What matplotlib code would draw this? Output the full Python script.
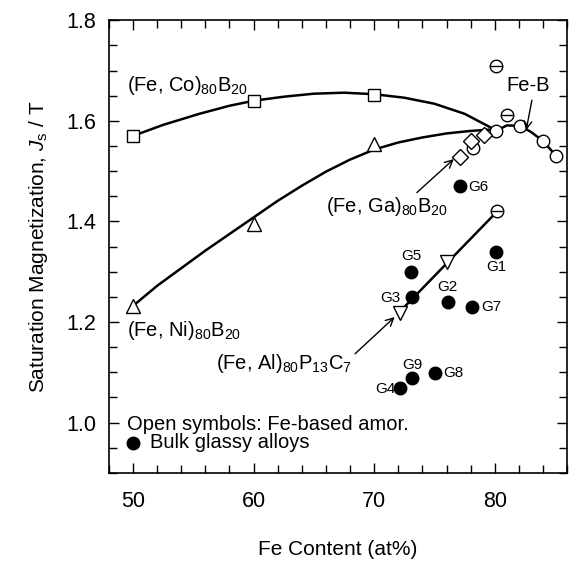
import matplotlib
matplotlib.use("Agg")
import matplotlib.pyplot as plt

plt.rcParams['font.family'] = ['Liberation Sans', 'DejaVu Sans']
plt.rcParams['mathtext.fontset'] = 'custom'
plt.rcParams['mathtext.rm'] = 'Liberation Sans'
plt.rcParams['mathtext.it'] = 'Liberation Sans:italic'

# (Fe, Co)80B20 - squares and fitted curve
co_x = [50, 60, 70]
co_y = [1.57, 1.64, 1.651]
co_curve_x = [50, 52.5, 55.5, 58, 60, 62.5, 65, 67.5, 70, 72.5, 75, 77.5, 79.8]
co_curve_y = [1.57, 1.592, 1.614, 1.630, 1.640, 1.648, 1.654, 1.656, 1.653, 1.646, 1.634, 1.614, 1.585]

# (Fe, Ni)80B20 - triangles and fitted curve
ni_x = [50, 60, 70]
ni_y = [1.232, 1.395, 1.554]
ni_curve_x = [50.2, 52, 54, 56, 58, 60, 62, 64, 66, 68, 70, 72, 74, 76, 78, 79.8]
ni_curve_y = [1.236, 1.272, 1.307, 1.342, 1.375, 1.408, 1.441, 1.471, 1.499,
              1.523, 1.543, 1.557, 1.567, 1.575, 1.580, 1.583]

# (Fe, Ga)80B20 - diamonds
ga_x = [77.1, 78.0, 79.1]
ga_y = [1.528, 1.56, 1.571]

# Fe-B - open circles and curve
feb_x = [78.2, 80.1, 82.1, 84.0, 85.1]
feb_y = [1.547, 1.58, 1.59, 1.56, 1.53]
feb_curve_x = [80.1, 81.0, 82.1, 83.0, 84.0, 85.1]
feb_curve_y = [1.58, 1.591, 1.59, 1.578, 1.56, 1.53]

# crossed circles
cross_x = [80.1, 81.0, 80.2]
cross_y = [1.71, 1.611, 1.42]

# (Fe, Al)80P13C7 - down triangles and line
al_x = [72.1, 76.0]
al_y = [1.217, 1.32]
al_line_x = [72.1, 80.2]
al_line_y = [1.22, 1.42]

# bulk glassy alloys
bg_names = ['G1', 'G2', 'G3', 'G4', 'G5', 'G6', 'G7', 'G8', 'G9']
bg_x = [80.1, 76.1, 73.1, 72.1, 73.06, 77.1, 78.1, 75.05, 73.1]
bg_y = [1.34, 1.239, 1.25, 1.068, 1.30, 1.471, 1.23, 1.099, 1.088]
# label offsets (data units) and alignment
bg_lab = {
    'G1': (0.0, -0.03, 'center'), 'G2': (0.0, 0.031, 'center'),
    'G3': (-0.9, -0.003, 'right'), 'G4': (-0.35, -0.002, 'right'),
    'G5': (0.0, 0.031, 'center'), 'G6': (0.7, -0.002, 'left'),
    'G7': (0.75, 0.0, 'left'), 'G8': (0.7, 0.0, 'left'),
    'G9': (0.05, 0.027, 'center'),
}

fig = plt.figure(figsize=(5.70, 5.63), dpi=100)
ax = fig.add_axes([0.191, 0.160, 0.804, 0.804])

lw = 1.8
ms = 8.5
ax.plot(co_curve_x, co_curve_y, color='k', lw=lw, zorder=2)
ax.plot(ni_curve_x, ni_curve_y, color='k', lw=lw, zorder=2)
ax.plot(feb_curve_x, feb_curve_y, color='k', lw=lw, zorder=2)
ax.plot(al_line_x, al_line_y, color='k', lw=lw, zorder=2)

mk = dict(ls='none', mfc='white', mec='k', mew=1.0, zorder=3)
ax.plot(co_x, co_y, marker='s', ms=ms, **mk)
ax.plot(ni_x, ni_y, marker='^', ms=ms + 1, **mk)
ax.plot(feb_x, feb_y, marker='o', ms=ms + 0.5, **mk)
ax.plot(ga_x, ga_y, marker='D', ms=ms - 0.5, **mk)
ax.plot(al_x, al_y, marker='v', ms=ms + 1, **mk)
ax.plot(cross_x, cross_y, marker='o', ms=ms + 0.5, **mk)
ax.plot(cross_x, cross_y, marker='_', ms=ms - 0.5, ls='none', mec='k', mew=1.0, zorder=4)

ax.plot(bg_x, bg_y, marker='o', ms=ms + 0.5, ls='none', mfc='k', mec='k', zorder=3)
for n, x, y in zip(bg_names, bg_x, bg_y):
    dx, dy, ha = bg_lab[n]
    ax.text(x + dx, y + dy, n, fontsize=11, ha=ha, va='center')

fs = 14.5
ax.text(49.5, 1.671, '(Fe, Co)$_{80}$B$_{20}$', fontsize=fs, ha='left', va='center')
ax.text(49.5, 1.184, '(Fe, Ni)$_{80}$B$_{20}$', fontsize=fs, ha='left', va='center')
ax.annotate('(Fe, Al)$_{80}$P$_{13}$C$_{7}$', xy=(71.7, 1.21), xytext=(56.9, 1.118),
            fontsize=fs, ha='left', va='center',
            arrowprops=dict(arrowstyle='->', lw=1.0, color='k', mutation_scale=14,
                            shrinkA=0, shrinkB=0, relpos=(1.0, 0.8)))
ax.annotate('(Fe, Ga)$_{80}$B$_{20}$', xy=(76.6, 1.524), xytext=(66.0, 1.429),
            fontsize=fs, ha='left', va='center',
            arrowprops=dict(arrowstyle='->', lw=1.0, color='k', mutation_scale=14,
                            shrinkA=0, shrinkB=0, relpos=(0.72, 1.0)))
ax.annotate('Fe-B', xy=(82.6, 1.581), xytext=(81.0, 1.671),
            fontsize=fs, ha='left', va='center',
            arrowprops=dict(arrowstyle='->', lw=1.0, color='k', mutation_scale=14,
                            shrinkA=2, shrinkB=0, relpos=(0.6, 0.0)))

ax.text(49.5, 0.997, 'Open symbols: Fe-based amor.', fontsize=fs, ha='left', va='center')
ax.plot([50.0], [0.96], marker='o', ms=ms + 0.5, ls='none', mfc='k', mec='k')
ax.text(51.4, 0.96, 'Bulk glassy alloys', fontsize=fs, ha='left', va='center')

ax.set_xlim(48, 86)
ax.set_ylim(0.9, 1.8)
ax.set_xticks([50, 60, 70, 80])
ax.set_xticks(range(48, 87, 2), minor=True)
ax.set_yticks([1.0, 1.2, 1.4, 1.6, 1.8])
ax.set_yticks([0.9 + 0.05 * i for i in range(19)], minor=True)
ax.set_yticklabels(['1.0', '1.2', '1.4', '1.6', '1.8'])
ax.tick_params(which='both', direction='in', top=True, right=True, width=1.0, labelsize=15.5)
ax.tick_params(which='major', length=7)
ax.tick_params(which='minor', length=5.5)
ax.tick_params(axis='x', pad=13)
ax.tick_params(axis='y', pad=9)
for s in ax.spines.values():
    s.set_linewidth(1.2)

ax.set_xlabel('Fe Content (at%)', fontsize=15, labelpad=20)
ax.set_ylabel('Saturation Magnetization, $J_\\mathrm{s}$ / T', fontsize=15, labelpad=12)

fig.savefig('out.png', dpi=100)
